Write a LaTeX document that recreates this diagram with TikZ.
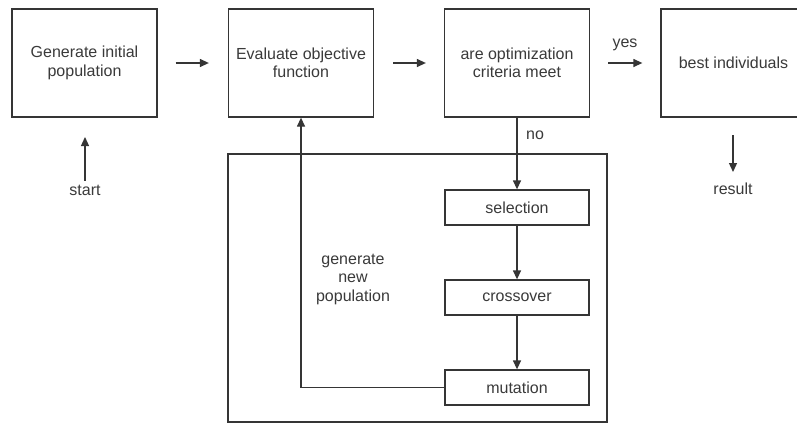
\documentclass[tikz,border=0pt]{standalone}
\usepackage{fontspec}
\setmainfont{Liberation Sans}
\usetikzlibrary{arrows.meta}
\definecolor{ln}{HTML}{353535}
\definecolor{tx}{HTML}{3A3A3A}
\begin{document}
\begin{tikzpicture}[x=1pt,y=-1pt,
  every node/.style={text=tx,font=\fontsize{16}{18.5}\selectfont},
  bigbox/.style={draw=ln,line width=1.3pt,minimum width=145pt,minimum height=108pt,inner sep=0pt,align=center},
  smallbox/.style={draw=ln,line width=1.3pt,minimum width=144pt,minimum height=35pt,inner sep=0pt},
  lbl/.style={inner sep=0pt,align=center},
  arr/.style={draw=ln,line width=1.3pt,-{Triangle[length=9pt,width=8pt]}},
  ln/.style={draw=ln,line width=1.3pt}]
\clip (0,0) rectangle (797,423);
\fill[white] (0,0) rectangle (797,423);
\node[bigbox] (b1) at (84.5,63) {Generate initial\\population};
\node[bigbox] (b2) at (301,63) {Evaluate objective\\function};
\node[bigbox] (b3) at (517,63) {are optimization\\criteria meet};
\node[bigbox] (b4) at (733.5,63) {best individuals};
\draw[ln] (228,154) rectangle (607,422);
\node[smallbox] (sel) at (517,207.5) {selection};
\node[smallbox] (cro) at (517,297.5) {crossover};
\node[smallbox] (mut) at (517,387.5) {mutation};
\node[lbl] (gen) at (353,279) {generate\\new\\population};
\node[lbl] (start) at (85,190) {start};
\node[lbl] (res) at (733,189) {result};
\node[lbl] (yes) at (625,45) {yes};
\node[lbl] (no) at (535,135) {no};
\coordinate (st) at (85,137);
\coordinate (rs) at (733,135);
\coordinate (re) at (733,172);
\draw[arr] ([xshift=18pt]b1.east) -- ([xshift=-19pt]b2.west);
\draw[arr] ([xshift=19pt]b2.east) -- ([xshift=-18pt]b3.west);
\draw[arr] ([xshift=18pt]b3.east) -- ([xshift=-18pt]b4.west);
\draw[arr] ([yshift=4pt]start.north) -- (st);
\draw[arr] (rs) -- (re);
\draw[arr] (b3.south) -- (sel.north);
\draw[arr] (sel.south) -- (cro.north);
\draw[arr] (cro.south) -- (mut.north);
\draw[arr] (mut.west) -| (b2.south);
\end{tikzpicture}
\end{document}
